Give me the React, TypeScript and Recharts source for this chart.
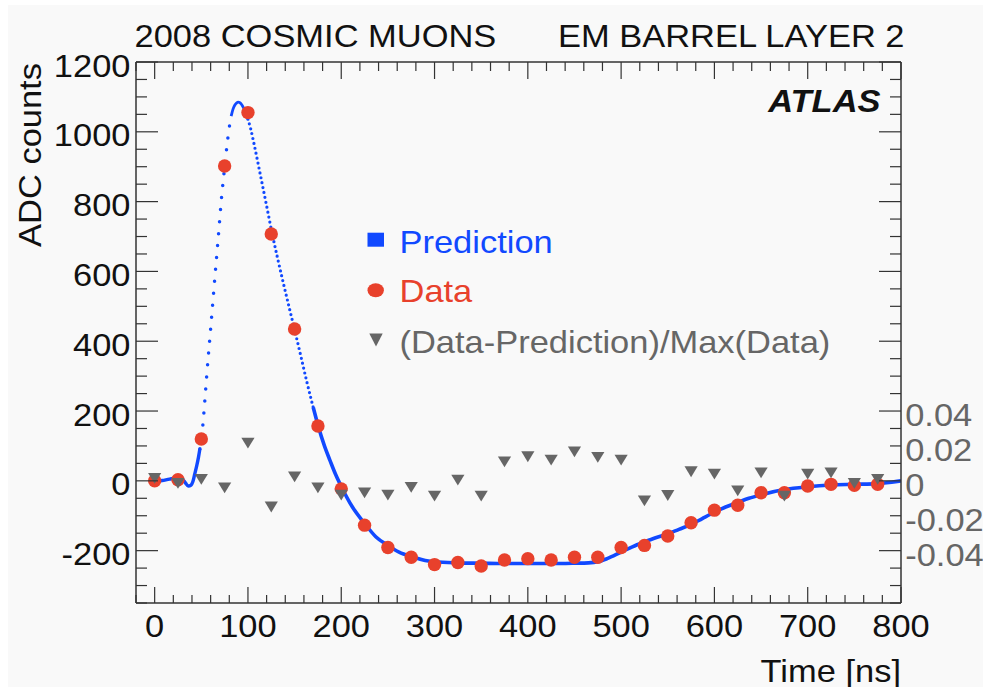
import React from 'react';
import { ComposedChart, Line, Scatter, XAxis, YAxis } from 'recharts';

// ---------- data ----------
const dataTimes = [0, 25, 50, 75, 100, 125, 150, 175, 200, 225, 250, 275, 300, 325, 350, 375, 400, 425, 450, 475, 500, 525, 550, 575, 600, 625, 650, 675, 700, 725, 750, 775];
const dataADC = [0, 3, 120, 902, 1055, 707, 435, 157, -23, -127, -191, -219, -240, -234, -244, -227, -223, -227, -219, -219, -191, -185, -158, -120, -84, -70, -34, -34, -15, -10, -13, -10];
const residuals = [0.0014, -0.0015, 0.0008, -0.0040, 0.0216, -0.015, 0.0023, -0.0040, -0.0082, -0.0069, -0.0082, -0.0038, -0.0088, 0.0004, -0.0088, 0.0109, 0.0138, 0.0119, 0.0166, 0.0134, 0.0119, -0.0115, -0.0084, 0.0052, 0.0038, -0.0057, 0.0046, -0.0088, 0.0038, 0.0046, -0.0015, 0.0008];

// prediction curve, read in segments (solid / dotted as drawn in the figure)
const predStartT = [0, 8, 16, 24, 30, 33, 36, 39, 41, 43, 45, 47, 48.5];
const predStartV = [-2, 1, 5, 8, 4, -6, -15, -12, -2, 20, 42, 68, 92];
const predRiseT = [48.5, 50, 52, 54, 56, 60, 64, 68, 72, 75, 78, 80, 82];
const predRiseV = [92, 118, 170, 238, 308, 435, 565, 692, 820, 898, 972, 1013, 1045];
const predPeakT = [82, 84, 86, 88, 89.5, 91, 93, 95, 98, 100];
const predPeakV = [1045, 1065, 1077, 1083, 1085, 1084, 1079, 1070, 1052, 1036];
const predFallT = [100, 103, 106, 113, 120, 126, 132, 138, 144, 150, 157, 163, 170];
const predFallV = [1036, 1008, 972, 881, 788, 708, 635, 566, 499, 433, 354, 285, 210];
const predTailT = [170, 175, 182, 188, 194, 200, 212, 225, 237, 250, 262, 275, 290, 300, 325, 350, 375, 400, 425, 450, 465, 475, 485, 500, 512, 525, 537, 550, 562, 575, 587, 600, 612, 625, 637, 650, 675, 700, 725, 750, 775, 790, 800];
const predTailV = [210, 160, 100, 58, 18, -16, -75, -122, -160, -185, -204, -217, -228, -232, -235, -236, -237, -237, -237, -236, -235, -232, -223, -204, -189, -175, -163, -152, -139, -125, -108, -90, -75, -62, -50, -40, -25, -17, -12, -10, -8, -4, 0];

// ticks
const xTicks = [-20, 0, 20, 40, 60, 80, 100, 120, 140, 160, 180, 200, 220, 240, 260, 280, 300, 320, 340, 360, 380, 400, 420, 440, 460, 480, 500, 520, 540, 560, 580, 600, 620, 640, 660, 680, 700, 720, 740, 760, 780, 800];
const xTickLabels = ['0', '100', '200', '300', '400', '500', '600', '700', '800'];
const yTicks = [-350, -300, -250, -200, -150, -100, -50, 0, 50, 100, 150, 200, 250, 300, 350, 400, 450, 500, 550, 600, 650, 700, 750, 800, 850, 900, 950, 1000, 1050, 1100, 1150, 1200];
const yTickLabels = ['-200', '0', '200', '400', '600', '800', '1000', '1200'];
const rTicks = [-0.07, -0.06, -0.05, -0.04, -0.03, -0.02, -0.01, 0, 0.01, 0.02, 0.03, 0.04, 0.05, 0.06, 0.07, 0.08, 0.09, 0.1, 0.11, 0.12, 0.13, 0.14, 0.15, 0.16, 0.17, 0.18, 0.19, 0.2, 0.21, 0.22, 0.23, 0.24];
const rLabelValues = [-0.04, -0.02, 0, 0.02, 0.04];
const rTickLabels = ['-0.04', '-0.02', '0', '0.02', '0.04'];

const toPts = (ts: number[], vs: number[]) => ts.map((t, i) => ({ t, v: vs[i] }));
const dataPts = toPts(dataTimes, dataADC);
const resPts = toPts(dataTimes, residuals);
const segStart = toPts(predStartT, predStartV);
const segRise = toPts(predRiseT, predRiseV);
const segPeak = toPts(predPeakT, predPeakV);
const segFall = toPts(predFallT, predFallV);
const segTail = toPts(predTailT, predTailV);

// ---------- styling ----------
const SX = 1.13;
const FONT = '"Liberation Sans", Arial, Helvetica, sans-serif';
const FS = 30.5;
const BLUE = '#1149ff';
const RED = '#e8412c';
const GRAY = '#666666';
const INK = '#111111';
const TICK = '#333333';

const L = 136, R = 901, T = 62, B = 603;
const AX_B = 40, AX_T = 10, AX_L = 60, AX_R = 40;

const SText = ({ x, y, anchor = 'start', fill = INK, size = FS, weight, italic, rotate, children }: any) => (
  <text
    transform={`translate(${x} ${y})${rotate ? ` rotate(${rotate})` : ''} scale(${SX} 1)`}
    x={0}
    y={0}
    textAnchor={anchor}
    fill={fill}
    fontSize={size}
    fontFamily={FONT}
    fontWeight={weight}
    fontStyle={italic ? 'italic' : undefined}
  >
    {children}
  </text>
);

const bottomTick = (props: any) => {
  const { x, payload } = props;
  const v = payload.value;
  const major = Math.abs(v % 100) < 1e-9;
  const idx = major ? Math.round(v / 100) : -1;
  return (
    <g>
      <line x1={x} x2={x} y1={B} y2={B - (major ? 16 : 8)} stroke={TICK} strokeWidth={1.2} />
      {major && idx >= 0 && <SText x={x} y={636.5} anchor="middle">{xTickLabels[idx]}</SText>}
    </g>
  );
};

const topTick = (props: any) => {
  const { x, payload } = props;
  const major = Math.abs(payload.value % 100) < 1e-9;
  return <line x1={x} x2={x} y1={T} y2={T + (major ? 17 : 9)} stroke={TICK} strokeWidth={1.2} />;
};

const leftTick = (props: any) => {
  const { y, payload } = props;
  const v = payload.value;
  const major = v % 200 === 0;
  const idx = major ? Math.round((v + 200) / 200) : -1;
  return (
    <g>
      <line x1={L} x2={L + (major ? 22 : 11)} y1={y} y2={y} stroke={TICK} strokeWidth={1.2} />
      {major && idx >= 0 && <SText x={130.5} y={y + 14.5} anchor="end">{yTickLabels[idx]}</SText>}
    </g>
  );
};

const rightTick = (props: any) => {
  const { y, payload } = props;
  const v = payload.value;
  const major = Math.round(v * 100) % 4 === 0;
  const li = rLabelValues.findIndex((lv) => Math.abs(lv - v) < 1e-6);
  return (
    <g>
      <line x1={R} x2={R - (major ? 22 : 11)} y1={y} y2={y} stroke={TICK} strokeWidth={1.2} />
      {li >= 0 && <SText x={905.2} y={y + 15} fill={GRAY}>{rTickLabels[li]}</SText>}
    </g>
  );
};

const DataDot = (p: any) => <circle cx={p.cx} cy={p.cy} r={6.7} fill={RED} />;
const ResTri = (p: any) => (
  <polygon
    points={`${p.cx - 6.6},${p.cy - 5.4} ${p.cx + 6.6},${p.cy - 5.4} ${p.cx},${p.cy + 5.4}`}
    fill={GRAY}
  />
);

const axisLineStyle = { stroke: '#333', strokeWidth: 1.5 };

export default function App() {
  return (
    <div style={{ position: 'absolute', left: 0, top: 0, width: 983, height: 687, background: '#ffffff', overflow: 'hidden' }}>
      <div style={{ position: 'absolute', left: 8, top: 5, right: 0, bottom: 0, background: '#f9f9f9' }} />
      <div style={{ position: 'absolute', left: 0, top: 0 }}>
        <ComposedChart
          width={983}
          height={687}
          margin={{ top: T - AX_T, right: 983 - R - AX_R, bottom: 687 - B - AX_B, left: L - AX_L }}
        >
          <XAxis
            xAxisId="b"
            dataKey="t"
            type="number"
            domain={[-20, 800]}
            allowDataOverflow
            ticks={xTicks}
            interval={0}
            height={AX_B}
            tickLine={false}
            axisLine={axisLineStyle}
            tick={bottomTick}
          />
          <XAxis
            xAxisId="t"
            orientation="top"
            dataKey="t"
            type="number"
            domain={[-20, 800]}
            allowDataOverflow
            ticks={xTicks}
            interval={0}
            height={AX_T}
            tickLine={false}
            axisLine={axisLineStyle}
            tick={topTick}
          />
          <YAxis
            yAxisId="l"
            type="number"
            domain={[-350, 1200]}
            allowDataOverflow
            ticks={yTicks}
            interval={0}
            width={AX_L}
            tickLine={false}
            axisLine={axisLineStyle}
            tick={leftTick}
          />
          <YAxis
            yAxisId="r"
            orientation="right"
            type="number"
            domain={[-0.07, 0.24]}
            allowDataOverflow
            ticks={rTicks}
            interval={0}
            width={AX_R}
            tickLine={false}
            axisLine={axisLineStyle}
            tick={rightTick}
          />
          <Line xAxisId="b" yAxisId="l" data={segStart} dataKey="v" type="monotone" stroke={BLUE} strokeWidth={3.4} dot={false} activeDot={false} isAnimationActive={false} />
          <Line xAxisId="b" yAxisId="l" data={segRise} dataKey="v" type="monotone" stroke={BLUE} strokeWidth={3.5} strokeDasharray="0 12" strokeLinecap="round" dot={false} activeDot={false} isAnimationActive={false} />
          <Line xAxisId="b" yAxisId="l" data={segPeak} dataKey="v" type="monotone" stroke={BLUE} strokeWidth={2.8} dot={false} activeDot={false} isAnimationActive={false} />
          <Line xAxisId="b" yAxisId="l" data={segFall} dataKey="v" type="monotone" stroke={BLUE} strokeWidth={3.2} strokeDasharray="0 5" strokeLinecap="round" dot={false} activeDot={false} isAnimationActive={false} />
          <Line xAxisId="b" yAxisId="l" data={segTail} dataKey="v" type="monotone" stroke={BLUE} strokeWidth={3.6} dot={false} activeDot={false} isAnimationActive={false} />
          <Scatter xAxisId="b" yAxisId="l" data={dataPts} dataKey="v" shape={DataDot} isAnimationActive={false} />
          <Scatter xAxisId="b" yAxisId="r" data={resPts} dataKey="v" shape={ResTri} isAnimationActive={false} />
        </ComposedChart>
      </div>
      <svg style={{ position: 'absolute', left: 0, top: 0, pointerEvents: 'none' }} width={983} height={687}>
        <SText x={134.5} y={46.7}>2008 COSMIC MUONS</SText>
        <SText x={904.5} y={46.7} anchor="end">EM BARREL LAYER 2</SText>
        <SText x={880.5} y={111.7} anchor="end" weight="bold" italic>ATLAS</SText>
        <SText x={41} y={155} anchor="middle" rotate={-90}>ADC counts</SText>
        <SText x={901} y={681.5} anchor="end">Time [ns]</SText>
        {/* legend */}
        <rect x={367.5} y={232.7} width={16.5} height={14} fill={BLUE} />
        <SText x={399.5} y={253} fill={BLUE}>Prediction</SText>
        <ellipse cx={375.7} cy={290.3} rx={8.2} ry={7} fill={RED} />
        <SText x={399.5} y={302} fill={RED}>Data</SText>
        <polygon points="369.3,333.5 382.7,333.5 376,346.5" fill={GRAY} />
        <SText x={399.5} y={352.5} fill={GRAY}>(Data-Prediction)/Max(Data)</SText>
      </svg>
    </div>
  );
}
